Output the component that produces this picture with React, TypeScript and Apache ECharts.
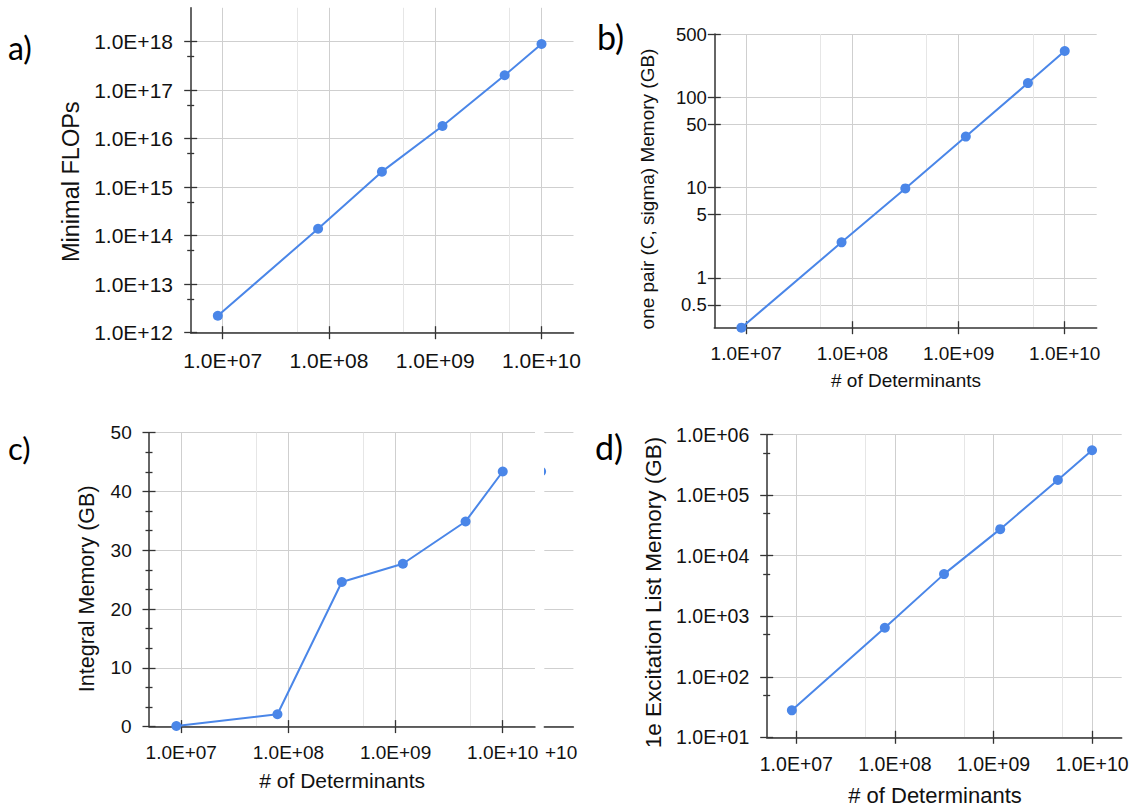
import { useEffect, useRef } from 'react';
import * as echarts from 'echarts';

// Number of determinants shared by every panel
const determinants = [9.0e6, 7.9e7, 3.15e8, 1.17e9, 4.5e9, 1.0e10];

// a) minimal floating point operations
const minimalFlops = [2.24e12, 1.39e14, 2.09e15, 1.83e16, 2.03e17, 8.98e17];
// b) memory for one (C, sigma) vector pair, GB
const pairMemory = [0.28, 2.47, 9.75, 36.6, 143, 324];
// c) integral memory, GB
const integralMemory = [0.1, 2.1, 24.6, 27.7, 34.9, 43.4];
// d) one-electron excitation list memory, GB
const excitationMemory = [27.9, 646, 4970, 27500, 179000, 554000];

// Tick values
const detTicks = [1e7, 1e8, 1e9, 1e10];
const detMinorLines = [5e7, 5e8, 5e9];
const flopsTicks = [1e12, 1e13, 1e14, 1e15, 1e16, 1e17, 1e18];
const flopsMinorTicks = [5e12, 5e13, 5e14, 5e15, 5e16, 5e17];
const pairTicks = [0.5, 1, 5, 10, 50, 100, 500];
const excitationTicks = [1e1, 1e2, 1e3, 1e4, 1e5, 1e6];
const excitationMinorTicks = [5e1, 5e2, 5e3, 5e4, 5e5];

const DET_MIN = 5e6;
const DET_MAX = 2e10;

const FONT = 'Liberation Sans, Arial, Helvetica, sans-serif';
const LETTER_FONT = 'Lato, Open Sans, sans-serif';
const AXIS_COLOR = '#333333';
const GRID_COLOR = '#cfcfcf';
const MINOR_GRID_COLOR = '#e6e6e6';
const TEXT_COLOR = '#111111';
const LINE_COLOR = '#4a86e8';

const sci = (v: number) => {
  const e = Math.round(Math.log10(v));
  return `1.0E${e < 0 ? '-' : '+'}${String(Math.abs(e)).padStart(2, '0')}`;
};
const plain = (v: number) => String(+v.toPrecision(6));

interface AxisDef {
  type: 'log' | 'value';
  min: number;
  max: number;
  ticks?: number[];
  interval?: number;
  minorTicks?: number[];
  minorSplit?: number;
  minorLines?: number[];
  fmt: (v: number) => string;
  fontSize: number;
  margin: number;
}

// Builds the stack of overlapping axes that gives grid lines, crossing ticks and labels.
function addAxisSet(list: any[], dim: 'x' | 'y', gridIndex: number, d: AxisDef): number {
  const common: any = {
    type: d.type,
    gridIndex,
    min: d.min,
    max: d.max,
    position: dim === 'x' ? 'bottom' : 'left',
    silent: true,
    axisLine: { show: false, onZero: false },
    axisTick: { show: false },
    axisLabel: { show: false },
    splitLine: { show: false },
    minorTick: { show: false },
    minorSplitLine: { show: false },
  };
  if (d.type === 'log') common.logBase = 10;
  if (d.interval) common.interval = d.interval;
  const tickValues = d.interval ? undefined : d.ticks;
  const tickLine = { color: AXIS_COLOR, width: 1.3 };

  list.push({
    ...common,
    z: 0,
    axisTick: { show: false, customValues: tickValues },
    splitLine: { show: true, lineStyle: { color: GRID_COLOR, width: 1 } },
  });
  if (d.minorLines) {
    list.push({
      ...common,
      z: 0,
      axisTick: { show: false, customValues: d.minorLines },
      splitLine: { show: true, lineStyle: { color: MINOR_GRID_COLOR, width: 1 } },
    });
  }
  const main = list.length;
  list.push({
    ...common,
    z: 3,
    axisLine: { show: true, onZero: false, lineStyle: { color: AXIS_COLOR, width: 1.5 } },
    axisTick: { show: true, inside: false, length: 6.5, customValues: tickValues, lineStyle: tickLine },
    minorTick: d.minorSplit
      ? { show: true, splitNumber: d.minorSplit, length: 3.5, lineStyle: tickLine }
      : { show: false },
    axisLabel: {
      show: true,
      customValues: tickValues,
      formatter: d.fmt,
      margin: d.margin,
      color: TEXT_COLOR,
      fontSize: d.fontSize,
      fontFamily: FONT,
    },
  });
  list.push({
    ...common,
    z: 3,
    axisTick: { show: true, inside: true, length: 6.5, customValues: tickValues, lineStyle: tickLine },
    minorTick: d.minorSplit
      ? { show: true, splitNumber: d.minorSplit, length: 3.5, lineStyle: tickLine }
      : { show: false },
  });
  if (d.minorTicks) {
    list.push({
      ...common,
      z: 3,
      axisTick: { show: true, inside: false, length: 3.5, customValues: d.minorTicks, lineStyle: tickLine },
    });
    list.push({
      ...common,
      z: 3,
      axisTick: { show: true, inside: true, length: 3.5, customValues: d.minorTicks, lineStyle: tickLine },
    });
  }
  return main;
}

const panels = [
  {
    box: { left: 190.7, top: 7.8, width: 382.8, height: 324.9 },
    xFont: 21,
    xMargin: 17.6,
    y: { type: 'log', min: 1e12, max: 5e18, ticks: flopsTicks, minorTicks: flopsMinorTicks, fmt: sci, fontSize: 21, margin: 17.7 } as AxisDef,
    values: minimalFlops,
  },
  {
    box: { left: 714.3, top: 34, width: 382.4, height: 293.7 },
    xFont: 19,
    xMargin: 16.2,
    y: { type: 'log', min: 0.28, max: 500, ticks: pairTicks, fmt: plain, fontSize: 18.5, margin: 7.5 } as AxisDef,
    values: pairMemory,
  },
  {
    box: { left: 149, top: 432.7, width: 386, height: 293.9 },
    xFont: 19,
    xMargin: 16.4,
    y: { type: 'value', min: 0, max: 50, interval: 10, minorSplit: 3, fmt: plain, fontSize: 19, margin: 17.3 } as AxisDef,
    values: integralMemory,
  },
  {
    box: { left: 766.7, top: 434.7, width: 355, height: 302.6 },
    xFont: 19.5,
    xMargin: 16.3,
    y: { type: 'log', min: 10, max: 1e6, ticks: excitationTicks, minorTicks: excitationMinorTicks, fmt: sci, fontSize: 19.5, margin: 17.4 } as AxisDef,
    values: excitationMemory,
  },
];

const letters = [
  { text: 'a)', x: 8, y: 47, size: 32 },
  { text: 'b)', x: 597, y: 36, size: 34 },
  { text: 'c)', x: 8, y: 448, size: 31 },
  { text: 'd)', x: 595, y: 446, size: 34 },
];

const axisNames = [
  { text: 'Minimal FLOPs', x: 71.2, y: 181.7, size: 23.5, vertical: true },
  { text: 'one pair (C, sigma) Memory (GB)', x: 647.8, y: 189, size: 19, vertical: true },
  { text: '# of Determinants', x: 906, y: 380, size: 19, vertical: false },
  { text: 'Integral Memory (GB)', x: 86.9, y: 588.8, size: 21.5, vertical: true },
  { text: '# of Determinants', x: 342.2, y: 780, size: 21, vertical: false },
  { text: '1e Excitation List Memory (GB)', x: 653.4, y: 592.5, size: 22.5, vertical: true },
  { text: '# of Determinants', x: 935, y: 795, size: 22, vertical: false },
];

function buildOption() {
  const grids: any[] = [];
  const xAxes: any[] = [];
  const yAxes: any[] = [];
  const series: any[] = [];

  panels.forEach((p, i) => {
    grids.push({ ...p.box, show: false, containLabel: false, outerBoundsMode: 'none' });
    const xi = addAxisSet(xAxes, 'x', i, {
      type: 'log',
      min: DET_MIN,
      max: DET_MAX,
      ticks: detTicks,
      minorLines: detMinorLines,
      fmt: sci,
      fontSize: p.xFont,
      margin: p.xMargin,
    });
    const yi = addAxisSet(yAxes, 'y', i, p.y);
    series.push({
      type: 'line',
      xAxisIndex: xi,
      yAxisIndex: yi,
      data: determinants.map((d, k) => [d, p.values[k]]),
      symbol: 'circle',
      symbolSize: 10,
      showSymbol: true,
      clip: false,
      z: 5,
      lineStyle: { color: LINE_COLOR, width: 2 },
      itemStyle: { color: LINE_COLOR },
      emphasis: { disabled: true },
    });
  });

  // Edge of a neighbouring copy of panel c, peeking out on its right
  const stubGrid = grids.length;
  grids.push({ left: 544.3, top: 432.7, width: 29.1, height: 293.9, show: false, containLabel: false, outerBoundsMode: 'none' });
  const stubX = xAxes.length;
  xAxes.push({
    type: 'value', gridIndex: stubGrid, min: 0, max: 1, z: 3, silent: true,
    axisLine: { show: true, onZero: false, lineStyle: { color: AXIS_COLOR, width: 1.5 } },
    axisTick: { show: false }, axisLabel: { show: false }, splitLine: { show: false },
  });
  const stubY = yAxes.length;
  yAxes.push({
    type: 'value', gridIndex: stubGrid, min: 0, max: 50, interval: 10, z: 0, silent: true,
    axisLine: { show: false }, axisTick: { show: false }, axisLabel: { show: false },
    splitLine: { show: true, lineStyle: { color: GRID_COLOR, width: 1 } },
  });
  series.push({
    type: 'custom',
    xAxisIndex: stubX,
    yAxisIndex: stubY,
    clip: true,
    z: 5,
    silent: true,
    data: [[-0.11, integralMemory[integralMemory.length - 1]]],
    renderItem: (_params: any, api: any) => {
      const pt = api.coord([api.value(0), api.value(1)]);
      return { type: 'circle', shape: { cx: pt[0], cy: pt[1], r: 5 }, style: { fill: LINE_COLOR } };
    },
  });

  const graphic: any[] = [
    ...letters.map((l) => ({
      type: 'text', x: l.x, y: l.y, silent: true,
      style: { text: l.text, fontFamily: LETTER_FONT, fontSize: l.size, fill: '#000', align: 'left', verticalAlign: 'middle' },
    })),
    ...axisNames.map((n) => ({
      type: 'text', x: n.x, y: n.y, rotation: n.vertical ? Math.PI / 2 : 0, silent: true,
      style: { text: n.text, fontFamily: FONT, fontSize: n.size, fill: TEXT_COLOR, align: 'center', verticalAlign: 'middle' },
    })),
    {
      type: 'text', x: 545, y: 752, silent: true,
      style: { text: '+10', fontFamily: FONT, fontSize: 19, fill: TEXT_COLOR, align: 'left', verticalAlign: 'middle' },
    },
  ];

  return {
    animation: false,
    backgroundColor: '#ffffff',
    grid: grids,
    xAxis: xAxes,
    yAxis: yAxes,
    series,
    graphic,
  };
}

export default function App() {
  const ref = useRef<HTMLDivElement>(null);
  useEffect(() => {
    if (!ref.current) return;
    const chart = echarts.init(ref.current, undefined, { renderer: 'svg' });
    chart.setOption(buildOption());
    return () => chart.dispose();
  }, []);
  return (
    <div
      ref={ref}
      style={{ position: 'absolute', left: 0, top: 0, width: 1130, height: 808, background: '#fff' }}
    />
  );
}
